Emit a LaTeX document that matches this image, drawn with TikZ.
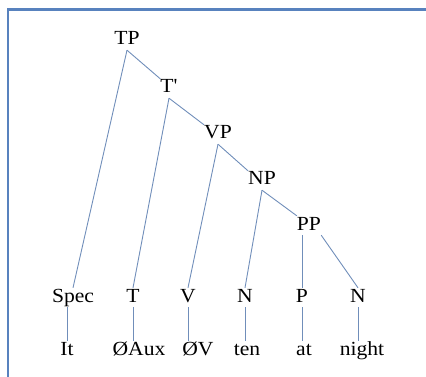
\documentclass[tikz,border=0pt]{standalone}
\usepackage{fontspec}
\setmainfont{Liberation Serif}[FakeStretch=1.08, Ligatures=TeXOff]
\definecolor{framecol}{RGB}{88,130,190}
\definecolor{branchcol}{RGB}{112,142,186}
\tikzset{
  lbl/.style={inner sep=0pt, anchor=base, text height=14pt, text depth=5pt,
    font=\fontsize{20}{22}\selectfont},
  branch/.style={draw=branchcol, line width=0.9pt},
}
\begin{document}
\begin{tikzpicture}[x=1pt,y=-1pt]
\useasboundingbox (0,0) rectangle (426,377);
% frame
\draw[framecol, line width=2.6pt] (8,377) -- (8,9.5) -- (426,9.5);
% phrase nodes
\node[lbl] (TP) at (127,45) {TP};
\node[lbl] (Tb) at (169,93) {T'};
\node[lbl] (VP) at (218,139) {VP};
\node[lbl] (NP) at (262,185) {NP};
\node[lbl] (PP) at (309,230) {PP};
% terminal categories
\node[lbl] (Spec) at (73,302) {Spec};
\node[lbl] (T) at (133,302) {T};
\node[lbl] (V) at (188,302) {V};
\node[lbl] (N1) at (245,302) {N};
\node[lbl] (P) at (302,302) {P};
\node[lbl] (N2) at (358,302) {N};
% words
\node[lbl] (w1) at (67,355) {It};
\node[lbl] (w2) at (139,355) {ØAux};
\node[lbl] (w3) at (198,355) {ØV};
\node[lbl] (w4) at (247,355) {ten};
\node[lbl] (w5) at (304,355) {at};
\node[lbl] (w6) at (362,355) {night};
% branches
\draw[branch] (TP.south) -- (Spec.north);
\draw[branch] (TP.south) -- (Tb.north west);
\draw[branch] (Tb.south) -- (T.north);
\draw[branch] (Tb.south) -- (VP.north west);
\draw[branch] (VP.south) -- (V.north);
\draw[branch] (VP.south) -- (NP.north west);
\draw[branch] (NP.south) -- (N1.north);
\draw[branch] (NP.south) -- (PP.north west);
\draw[branch] (PP.south -| P.north) -- (P.north);
\draw[branch] (PP.south east) -- (N2.north);
% lexical links
\draw[branch] (Spec.south -| w1.north) -- (w1.north);
\draw[branch] (T.south) -- (T.south |- w2.north);
\draw[branch] (V.south) -- (V.south |- w3.north);
\draw[branch] (N1.south) -- (N1.south |- w4.north);
\draw[branch] (P.south) -- (P.south |- w5.north);
\draw[branch] (N2.south) -- (N2.south |- w6.north);
\end{tikzpicture}
\end{document}
